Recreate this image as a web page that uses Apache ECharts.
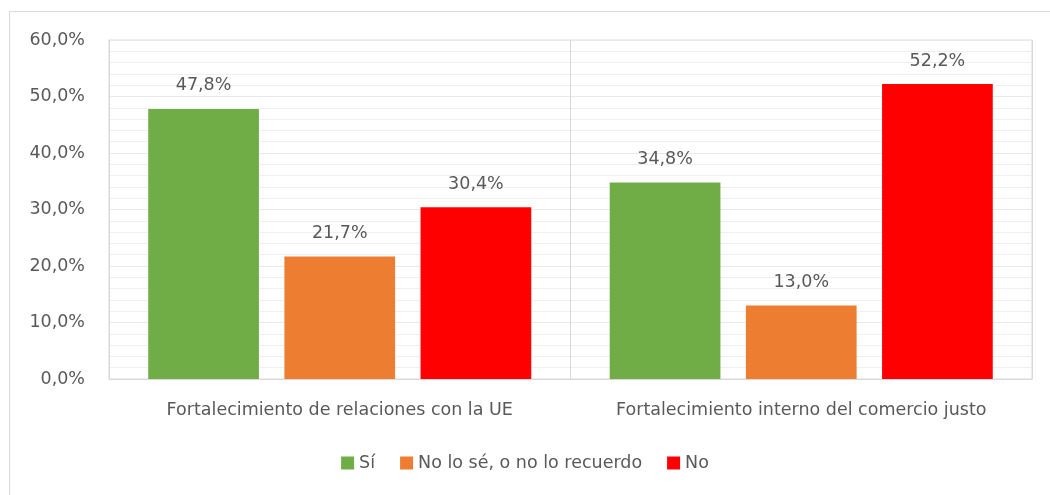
<!DOCTYPE html>
<html>
<head>
<meta charset="utf-8">
<script src="https://cdn.jsdelivr.net/npm/echarts@6/dist/echarts.min.js"></script>
<style>
  html, body { margin: 0; padding: 0; background: #fff; }
  #chart { width: 1050px; height: 495px; }
</style>
</head>
<body>
<div id="chart"></div>
<script>
  // datos
  const categorias = ['Fortalecimiento de relaciones con la UE', 'Fortalecimiento interno del comercio justo']
  const si = [47.8, 34.8]
  const noSe = [21.7, 13.0]
  const no = [30.4, 52.2]
  const nombres = ['Sí', 'No lo sé, o no lo recuerdo', 'No']
  const colores = ['#70ad47', '#ed7d31', '#ff0000']

  const fmt = v => v.toFixed(1).replace('.', ',') + '%'
  const fuente = 'DejaVu Sans'
  const tam = 17.5

  const chart = echarts.init(document.getElementById('chart'))

  const serie = (nombre, datos, color) => ({
    name: nombre,
    type: 'bar',
    data: datos,
    barGap: '23%',
    barCategoryGap: '17%',
    itemStyle: { color: color },
    label: {
      show: true,
      position: 'top',
      distance: 14,
      color: '#595959',
      fontFamily: fuente,
      fontSize: tam,
      formatter: p => fmt(p.value)
    }
  })

  const option = {
    animation: false,
    graphic: [{
      type: 'rect',
      shape: { x: 9.5, y: 11.5, width: 1100, height: 600 },
      style: { fill: 'none', stroke: '#d9d9d9', lineWidth: 1 },
      silent: true
    }],
    grid: {
      left: 109, right: 18, top: 40, bottom: 116,
      show: true, borderColor: '#d9d9d9', borderWidth: 1
    },
    legend: {
      bottom: 18,
      left: 'center',
      itemWidth: 13,
      itemHeight: 13,
      itemGap: 25,
      icon: 'rect',
      textStyle: { color: '#595959', fontFamily: fuente, fontSize: tam },
      data: nombres
    },
    xAxis: {
      type: 'category',
      data: categorias,
      axisLine: { lineStyle: { color: '#d9d9d9' } },
      axisTick: { show: false },
      splitLine: { show: true, interval: 0, lineStyle: { color: '#d9d9d9' } },
      axisLabel: { interval: 0, color: '#595959', fontFamily: fuente, fontSize: tam, margin: 22 }
    },
    yAxis: {
      type: 'value',
      min: 0,
      max: 60,
      interval: 10,
      axisLine: { show: true, lineStyle: { color: '#d9d9d9' } },
      axisLabel: { color: '#595959', fontFamily: fuente, fontSize: tam, margin: 24, formatter: fmt },
      splitLine: { lineStyle: { color: '#e9e9e9' } },
      minorTick: { show: false, splitNumber: 5 },
      minorSplitLine: { show: true, lineStyle: { color: '#efefef' } }
    },
    series: [
      serie(nombres[0], si, colores[0]),
      serie(nombres[1], noSe, colores[1]),
      serie(nombres[2], no, colores[2])
    ]
  }

  chart.setOption(option)
</script>
</body>
</html>
